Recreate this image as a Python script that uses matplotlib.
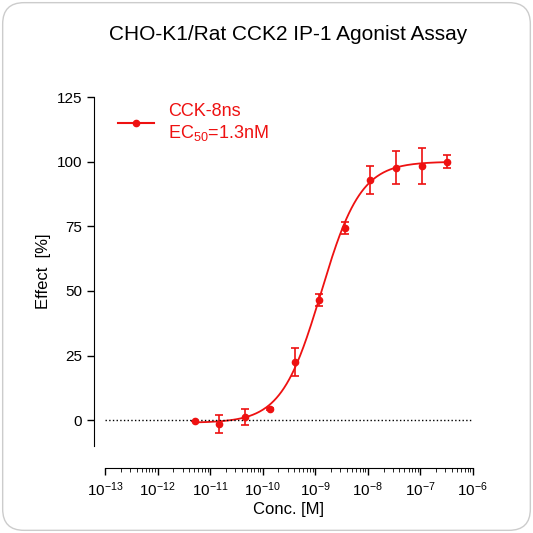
import numpy as np
import matplotlib.pyplot as plt
from matplotlib.patches import FancyBboxPatch

plt.rcParams['font.family'] = ['Liberation Sans', 'DejaVu Sans']
plt.rcParams['mathtext.fontset'] = 'custom'
plt.rcParams['mathtext.rm'] = 'Liberation Sans'

conc = [5.1e-12, 1.5e-11, 4.6e-11, 1.4e-10, 4.1e-10, 1.2e-9, 3.7e-9, 1.1e-8, 3.4e-8, 1.07e-7, 3.2e-7]
effect = [-0.4, -1.5, 1.2, 4.3, 22.5, 46.5, 74.4, 93.0, 97.7, 98.4, 100.0]
err = [0.0, 3.5, 3.0, 0.5, 5.5, 2.2, 2.2, 5.5, 6.5, 7.0, 2.5]
bottom, top, ec50, hill = -1.0, 100.0, 1.3e-9, 1.15

fig = plt.figure(figsize=(5.33, 5.33), dpi=100)
box = FancyBboxPatch((0.005, 0.005), 0.99, 0.99, boxstyle="round,pad=0,rounding_size=0.04",
                     transform=fig.transFigure, fc='white', ec='#cccccc', lw=1, zorder=-10)
fig.patches.append(box)
ax = fig.add_axes([0.197, 0.163, 0.69, 0.655])
ax.patch.set_alpha(0)
red = '#ee1111'
xs = np.logspace(np.log10(conc[0]), np.log10(conc[-1]), 300)
ax.plot(xs, bottom + (top - bottom) / (1 + (ec50 / xs) ** hill), color=red, lw=1.3)
ax.errorbar(conc, effect, yerr=err, fmt='o', color=red, ms=4.5, capsize=3, elinewidth=1.2, capthick=1.2)
ax.plot([], [], 'o-', color=red, ms=4.5, label='CCK-8ns\nEC$_{50}$=1.3nM')
ax.axhline(0, color='black', ls=':', lw=1)
ax.set_xscale('log')
ax.set_xlim(1e-13, 1e-6)
ax.set_ylim(-10, 125)
ax.set_yticks([0, 25, 50, 75, 100, 125])
ax.set_xticks([10.0**k for k in range(-13, -5)])
ax.spines['top'].set_visible(False)
ax.spines['right'].set_visible(False)
ax.spines['bottom'].set_position(('outward', 16))
ax.spines['left'].set_position(('outward', 8))
ax.tick_params(labelsize=11, width=1, length=5)
ax.tick_params(which='minor', length=3)
ax.set_xlabel('Conc. [M]', fontsize=12, labelpad=2)
ax.set_ylabel('Effect  [%]', fontsize=12)
leg = ax.legend(loc='upper left', bbox_to_anchor=(-0.01, 1.03), frameon=False, fontsize=13, handlelength=2)
for t in leg.get_texts():
    t.set_color(red)
fig.text(0.54, 0.935, 'CHO-K1/Rat CCK2 IP-1 Agonist Assay', ha='center', va='center', fontsize=15)
fig.savefig('out.png', dpi=100)
